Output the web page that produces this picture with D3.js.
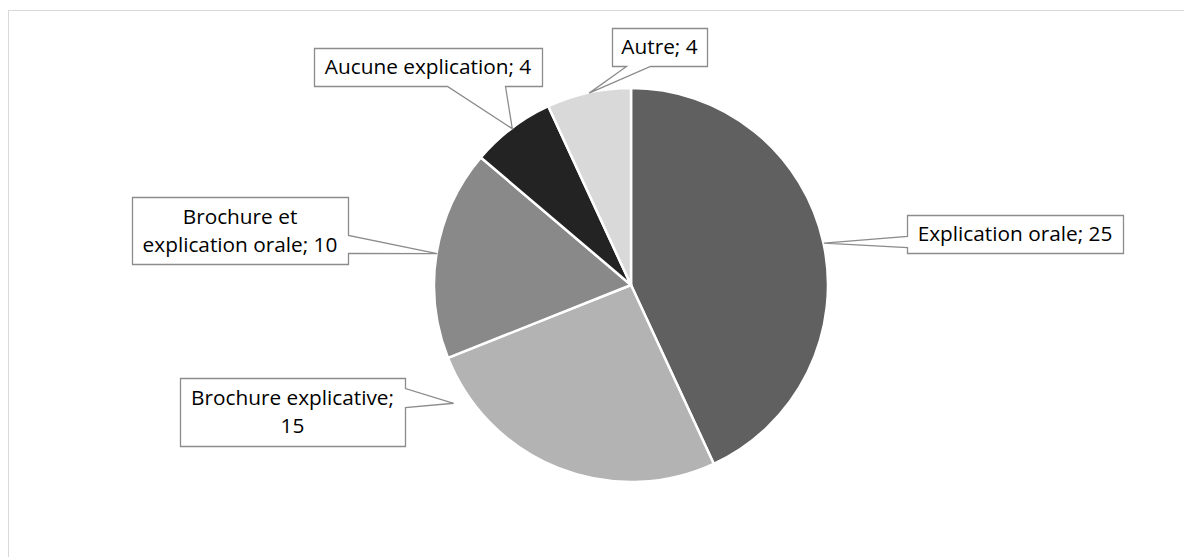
<!DOCTYPE html>
<html>
<head>
<meta charset="utf-8">
<script src="https://cdn.jsdelivr.net/npm/d3@7"></script>
<style>
  body { margin: 0; background: #fff; }
  text { font-family: "Open Sans", sans-serif; fill: #000; }
</style>
</head>
<body>
<svg class="svg" width="1184" height="557"></svg>
<script>
// data
let categories = ['Explication orale', 'Brochure explicative', 'Brochure et explication orale', 'Aucune explication', 'Autre'];
let values = [25, 15, 10, 4, 4];
let labelLines = [['Explication orale; 25'], ['Brochure explicative;', '15'], ['Brochure et', 'explication orale; 10'], ['Aucune explication; 4'], ['Autre; 4']];
let colors = ['#606060', '#b3b3b3', '#898989', '#232323', '#d9d9d9'];

// layout of callouts (box, side of the pointer, pointer base, leader angle override)
let boxes = [
    {x: 907, y: 215, w: 216, h: 38, side: 'left', b0: 236, b1: 247},
    {x: 180, y: 378, w: 225, h: 68, side: 'right', b0: 388, b1: 407, ang: 236.5, rf: 1.083},
    {x: 132, y: 197, w: 216, h: 67, side: 'right', b0: 235, b1: 253},
    {x: 314, y: 48, w: 228, h: 38, side: 'bottom', b0: 447, b1: 505},
    {x: 612, y: 28, w: 95, h: 38, side: 'bottom', b0: 626, b1: 650}
];

let cx = 631, cy = 285, radius = 197;
let fontSize = 20.8, lineH = 28;

let svg = d3.select('.svg');

// chart area border
svg.append('rect')
    .attr('x', 8.5).attr('y', 10.5)
    .attr('width', 1300).attr('height', 700)
    .attr('fill', 'none')
    .attr('stroke', '#d9d9d9')
    .attr('stroke-width', 1);

let pie = d3.pie().sort(null).value(d => d)(values);
let arc = d3.arc().innerRadius(0).outerRadius(radius);

let g = svg.append('g').attr('transform', 'translate(' + cx + ',' + cy + ')');
g.selectAll('path.slice')
    .data(pie)
    .enter().append('path')
    .attr('class', 'slice')
    .attr('d', arc)
    .attr('fill', (d, i) => colors[i])
    .attr('stroke', '#fff')
    .attr('stroke-width', 2.5)
    .attr('stroke-linejoin', 'round');

// callouts
for (let i = 0; i < pie.length; i++) {
    let b = boxes[i];
    let a = b.ang !== undefined ? b.ang * Math.PI / 180 : (pie[i].startAngle + pie[i].endAngle) / 2;
    let rf = b.rf || 1;
    let tx = cx + radius * rf * Math.sin(a);
    let ty = cy - radius * rf * Math.cos(a);

    let pts;
    if (b.side === 'left') {
        pts = [[b.x, b.y], [b.x + b.w, b.y], [b.x + b.w, b.y + b.h], [b.x, b.y + b.h], [b.x, b.b1], [tx, ty], [b.x, b.b0]];
    } else if (b.side === 'right') {
        pts = [[b.x, b.y], [b.x + b.w, b.y], [b.x + b.w, b.b0], [tx, ty], [b.x + b.w, b.b1], [b.x + b.w, b.y + b.h], [b.x, b.y + b.h]];
    } else {
        pts = [[b.x, b.y], [b.x + b.w, b.y], [b.x + b.w, b.y + b.h], [b.b1, b.y + b.h], [tx, ty], [b.b0, b.y + b.h], [b.x, b.y + b.h]];
    }
    svg.append('path')
        .attr('d', 'M' + pts.map(p => (p[0] + 0.5) + ',' + (p[1] + 0.5)).join('L') + 'Z')
        .attr('fill', '#fff')
        .attr('stroke', '#8c8c8c')
        .attr('stroke-width', 1.3);

    let lines = labelLines[i];
    let midY = b.y + b.h / 2;
    let t = svg.append('text')
        .attr('text-anchor', 'middle')
        .style('font-size', fontSize + 'px');
    lines.forEach((ln, k) => {
        t.append('tspan')
            .attr('x', b.x + b.w / 2)
            .attr('y', midY + 7 + (k - (lines.length - 1) / 2) * lineH)
            .text(ln);
    });
}
</script>
</body>
</html>
